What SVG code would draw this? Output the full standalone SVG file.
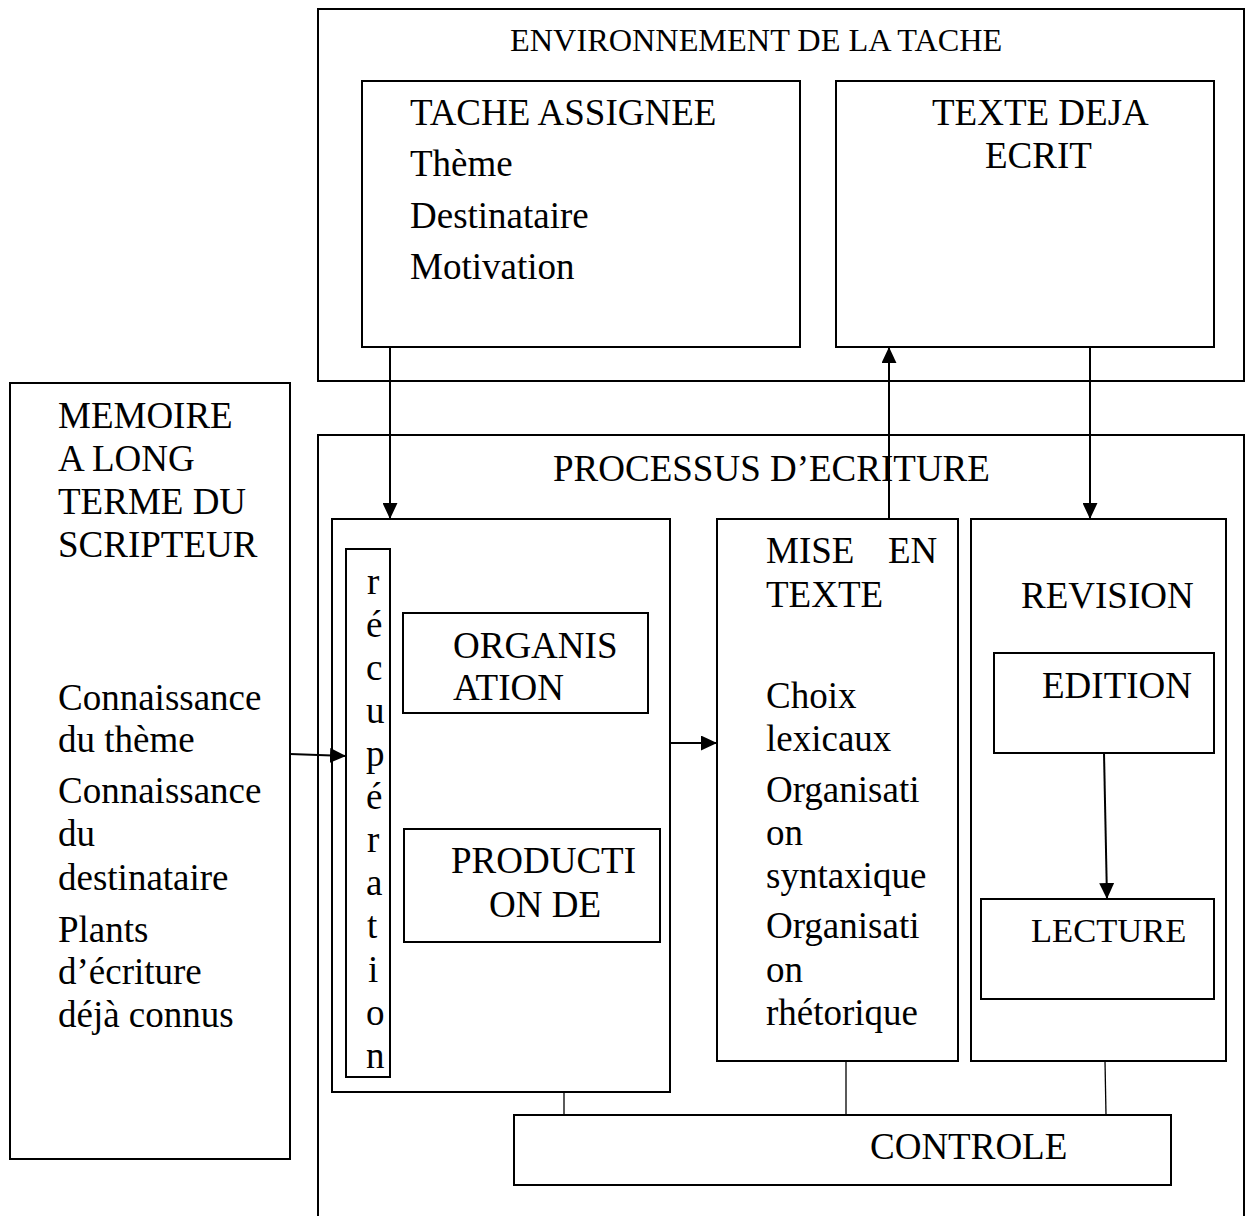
<svg xmlns="http://www.w3.org/2000/svg" width="1247" height="1216" viewBox="0 0 1247 1216">
<style>
.box{fill:none;stroke:#000;stroke-width:2}
.t{font-family:"Liberation Serif","Times New Roman",serif;font-size:37px;fill:#000}
.s{font-size:32.3px}
.c{stroke:#000;stroke-width:2;fill:none}
.thin{stroke:#000;stroke-width:1.3;fill:none}
</style>
<defs>
<marker id="ah" markerUnits="userSpaceOnUse" markerWidth="16" markerHeight="15" viewBox="0 0 15 14" refX="15" refY="7" orient="auto">
<path d="M0,0 L15,7 L0,14 z" fill="#000"/>
</marker>
</defs>
<rect width="1247" height="1216" fill="#fff"/>

<g id="environnement">
<rect class="box" x="318" y="9" width="926" height="372"/>
<text class="t s" x="510" y="51">ENVIRONNEMENT DE LA TACHE</text>
</g>

<g id="tache-assignee">
<rect class="box" x="362" y="81" width="438" height="266"/>
<text class="t" x="410" y="125">TACHE ASSIGNEE</text>
<text class="t" x="410" y="176">Thème</text>
<text class="t" x="410" y="228">Destinataire</text>
<text class="t" x="410" y="279">Motivation</text>
</g>

<g id="texte-deja-ecrit">
<rect class="box" x="836" y="81" width="378" height="266"/>
<text class="t" x="932" y="125">TEXTE DEJA</text>
<text class="t" x="985" y="168">ECRIT</text>
</g>

<g id="memoire">
<rect class="box" x="10" y="383" width="280" height="776"/>
<text class="t" x="58" y="428">MEMOIRE</text>
<text class="t" x="58" y="471">A LONG</text>
<text class="t" x="58" y="514">TERME DU</text>
<text class="t" x="58" y="557">SCRIPTEUR</text>
<text class="t" x="58" y="710">Connaissance</text>
<text class="t" x="58" y="752">du thème</text>
<text class="t" x="58" y="803">Connaissance</text>
<text class="t" x="58" y="846">du</text>
<text class="t" x="58" y="890">destinataire</text>
<text class="t" x="58" y="942">Plants</text>
<text class="t" x="58" y="984">d’écriture</text>
<text class="t" x="58" y="1027">déjà connus</text>
</g>

<g id="processus">
<rect class="box" x="318" y="435" width="926" height="800"/>
<text class="t" x="553" y="481">PROCESSUS D’ECRITURE</text>
</g>

<g id="planification">
<rect class="box" x="332" y="519" width="338" height="573"/>
</g>

<g id="recuperation">
<rect class="box" x="346" y="549" width="44" height="528"/>
<text class="t" x="367" y="594">r</text>
<text class="t" x="366" y="637">é</text>
<text class="t" x="366" y="680">c</text>
<text class="t" x="366" y="723">u</text>
<text class="t" x="366" y="766">p</text>
<text class="t" x="366" y="809">é</text>
<text class="t" x="367" y="852">r</text>
<text class="t" x="366" y="895">a</text>
<text class="t" x="367" y="938">t</text>
<text class="t" x="368" y="982">i</text>
<text class="t" x="366" y="1025">o</text>
<text class="t" x="366" y="1068">n</text>
</g>

<g id="organisation">
<rect class="box" x="403" y="613" width="245" height="100"/>
<text class="t" x="453" y="658">ORGANIS</text>
<text class="t" x="453" y="700">ATION</text>
</g>

<g id="production">
<rect class="box" x="404" y="829" width="256" height="113"/>
<text class="t" x="451" y="873">PRODUCTI</text>
<text class="t" x="489" y="917">ON DE</text>
</g>

<g id="mise-en-texte">
<rect class="box" x="717" y="519" width="241" height="542"/>
<text class="t" x="766" y="563">MISE</text>
<text class="t" x="888" y="563">EN</text>
<text class="t" x="766" y="607">TEXTE</text>
<text class="t" x="766" y="708">Choix</text>
<text class="t" x="766" y="751">lexicaux</text>
<text class="t" x="766" y="802">Organisati</text>
<text class="t" x="766" y="845">on</text>
<text class="t" x="766" y="888">syntaxique</text>
<text class="t" x="766" y="938">Organisati</text>
<text class="t" x="766" y="982">on</text>
<text class="t" x="766" y="1025">rhétorique</text>
</g>

<g id="revision">
<rect class="box" x="971" y="519" width="255" height="542"/>
<text class="t" x="1021" y="608">REVISION</text>
</g>

<g id="edition">
<rect class="box" x="994" y="653" width="220" height="100"/>
<text class="t" x="1042" y="698">EDITION</text>
</g>

<g id="lecture">
<rect class="box" x="981" y="899" width="233" height="100"/>
<text class="t" x="1031" y="942" style="font-size:34.5px">LECTURE</text>
</g>

<g id="controle">
<rect class="box" x="514" y="1115" width="657" height="70"/>
<text class="t" x="870" y="1159">CONTROLE</text>
</g>

<g id="connectors">
<line class="c" x1="390" y1="347" x2="390" y2="519" marker-end="url(#ah)"/>
<line class="c" x1="889" y1="519" x2="889" y2="347" marker-end="url(#ah)"/>
<line class="c" x1="1090" y1="347" x2="1090" y2="519" marker-end="url(#ah)"/>
<line class="c" x1="290" y1="754" x2="346" y2="756" marker-end="url(#ah)"/>
<line class="c" x1="670" y1="743" x2="717" y2="743" marker-end="url(#ah)"/>
<line class="c" x1="1104" y1="753" x2="1107" y2="899" marker-end="url(#ah)"/>
<line class="thin" x1="564" y1="1092" x2="564" y2="1115"/>
<line class="thin" x1="846" y1="1061" x2="846" y2="1115"/>
<line class="thin" x1="1105" y1="1061" x2="1106" y2="1115"/>
</g>
</svg>
